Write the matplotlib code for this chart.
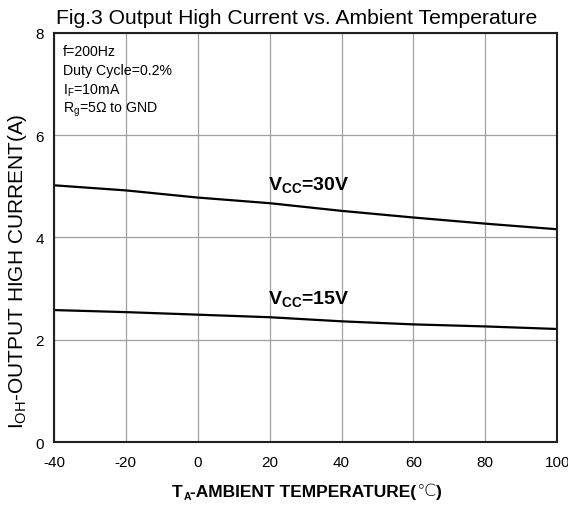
import numpy as np
import matplotlib.pyplot as plt

plt.rcParams['font.family'] = ['Liberation Sans', 'DejaVu Sans']
plt.rcParams['mathtext.fontset'] = 'custom'
plt.rcParams['mathtext.rm'] = 'Liberation Sans'
plt.rcParams['mathtext.it'] = 'Liberation Sans'
plt.rcParams['mathtext.bf'] = 'Liberation Sans:bold'
plt.rcParams['axes.unicode_minus'] = False

# ambient temperature (C)
temp = [-40, -20, 0, 20, 40, 60, 80, 100]
# output high current (A)
ioh_30v = [5.02, 4.92, 4.78, 4.67, 4.52, 4.39, 4.27, 4.16]
ioh_15v = [2.58, 2.54, 2.49, 2.44, 2.36, 2.30, 2.26, 2.21]

x_ticks = [-40, -20, 0, 20, 40, 60, 80, 100]
y_ticks = [0, 2, 4, 6, 8]

fig = plt.figure(figsize=(5.68, 5.06), dpi=100)
ax = fig.add_axes([0.095, 0.1245, 0.886, 0.8085])

ax.plot(temp, ioh_30v, color='black', lw=1.6)
ax.plot(temp, ioh_15v, color='black', lw=1.6)

ax.set_xlim(-40, 100)
ax.set_ylim(0, 8)
ax.set_xticks(x_ticks)
ax.set_yticks(y_ticks)
ax.grid(True, color='#a0a0a0', lw=0.9)
ax.tick_params(length=0, labelsize=11)
ax.tick_params(axis='x', pad=9)
ax.tick_params(axis='y', pad=7)
for s in ax.spines.values():
    s.set_linewidth(1.5)
    s.set_color('#202020')

ax.text(19.5, 5.04, r'$\mathbf{V_{CC}}$=30V', fontsize=14, fontweight='bold', va='center')
ax.text(19.5, 2.82, r'$\mathbf{V_{CC}}$=15V', fontsize=14, fontweight='bold', va='center')

notes = ['f=200Hz', 'Duty Cycle=0.2%', r'I$_\mathrm{F}$=10mA', r'R$_\mathrm{g}$=5Ω to GND']
for i, s in enumerate(notes):
    ax.text(-37.6, 7.64 - i * 0.375, s, fontsize=10.2, va='center')

fig.text(0.523, 0.964, 'Fig.3 Output High Current vs. Ambient Temperature',
         fontsize=15.2, ha='center', va='center')

# x label built in pieces so that the ℃ sign can fall back to DejaVu Sans
xl_size = 12.5
t_head = fig.text(0.303, 1 - 497 / 506, 'T', fontsize=xl_size, fontweight='bold',
                  ha='left', va='baseline')
ax.annotate('A', xy=(1, 0), xycoords=t_head, xytext=(0.3, -1.5),
            textcoords='offset points', fontsize=7.5, fontweight='bold',
            ha='left', va='bottom')
t_body = ax.annotate('-AMBIENT TEMPERATURE(', xy=(1, 0), xycoords=t_head,
                     xytext=(5.2, 0), textcoords='offset points', fontsize=xl_size,
                     fontweight='bold', ha='left', va='bottom')
t_deg = ax.annotate('℃', xy=(1, 0), xycoords=t_body, xytext=(0.5, 0),
                    textcoords='offset points', fontsize=xl_size,
                    fontweight='light', family='DejaVu Sans', ha='left', va='bottom')
ax.annotate(')', xy=(1, 0), xycoords=t_deg, xytext=(0, 0),
            textcoords='offset points', fontsize=xl_size,
            fontweight='bold', ha='left', va='bottom')

ax.set_ylabel(r'I$_\mathrm{OH}$-OUTPUT HIGH CURRENT(A)', fontsize=15)
ax.yaxis.set_label_coords(-0.05, 0.42)

fig.savefig('out.png', dpi=100)
